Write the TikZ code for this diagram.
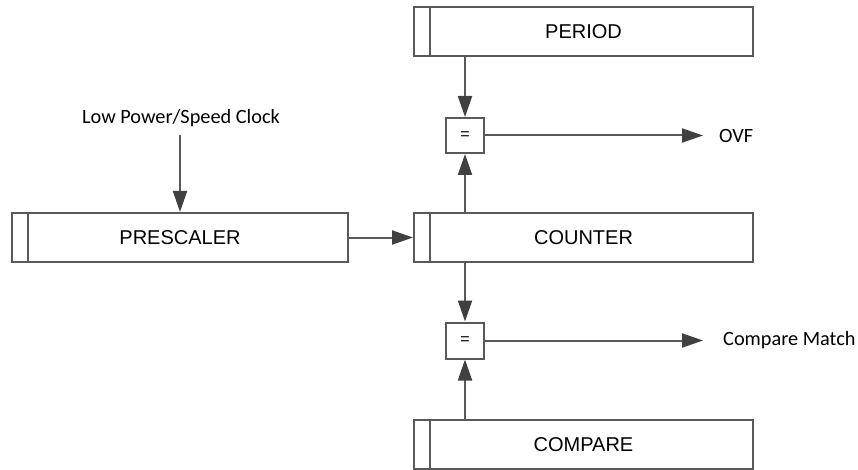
\documentclass[tikz,border=0pt]{standalone}
\usepackage{fontspec}
\setmainfont{Liberation Sans}
\newfontfamily\lblfont{Carlito}
\usetikzlibrary{arrows.meta,positioning}
\definecolor{linegray}{HTML}{595959}
\definecolor{tipgray}{HTML}{404040}
\tikzset{reg node/.style={rectangle, draw=linegray, line width=2pt,
    minimum width=339pt, minimum height=49pt, inner sep=0pt,
    font=\fontsize{20}{24}\selectfont,
    path picture={\draw [linegray, line width=2pt]
      ([xshift=16pt]path picture bounding box.north west) --
      ([xshift=16pt]path picture bounding box.south west);}}}
\tikzset{cmp node/.style={rectangle, draw=linegray, line width=2pt,
    minimum width=38pt, minimum height=35pt, inner sep=0pt,
    font=\fontsize{16}{19}\selectfont}}
\tikzset{signal label/.style={inner sep=0pt, font=\lblfont\fontsize{20.3}{24}\selectfont}}
\tikzset{signal edge/.style={draw=linegray, line width=2pt,
    -{Triangle[length=21pt, width=14pt, fill=tipgray, color=tipgray]}}}

\begin{document}
\begin{tikzpicture}
  [x=1pt, y=-1pt]
  \useasboundingbox (0,0) rectangle (858,470);
  \begin{scope}
    \node [reg node]                    (period)    at (583.5, 31.5) {PERIOD};
    \node [cmp node]                    (cmpovf)    at (465, 135.5)  {=};
    \node [reg node]                    (counter)   at (583.5,237.5) {COUNTER};
    \node [reg node, minimum width=336pt] (prescaler) at (180, 237.5)  {PRESCALER};
    \node [cmp node, minimum height=36pt] (cmpmatch)  at (465, 340.5)  {=};
    \node [reg node]                    (compare)   at (583.5,444.5) {COMPARE};
    \node [signal label]                (clock)     at (181, 118)    {Low Power/Speed Clock};
    \node [signal label, anchor=west]   (ovf)       at (719, 135.5)  {OVF};
    \node [signal label, anchor=west]   (match)     at (723, 340.5)  {Compare Match};

    \draw [signal edge, shorten <=8pt]  (clock.south -| prescaler)    to (prescaler.north);
    \draw [signal edge]                 (prescaler.east)               to (counter.west);
    \draw [signal edge]                 (cmpovf |- period.south)       to (cmpovf.north);
    \draw [signal edge]                 (cmpovf |- counter.north)      to (cmpovf.south);
    \draw [signal edge, shorten >=16pt] (cmpovf.east)                  to (ovf.west);
    \draw [signal edge]                 (cmpmatch |- counter.south)    to (cmpmatch.north);
    \draw [signal edge]                 (cmpmatch |- compare.north)    to (cmpmatch.south);
    \draw [signal edge, shorten >=20pt] (cmpmatch.east)                to (match.west);
  \end{scope}
\end{tikzpicture}
\end{document}
